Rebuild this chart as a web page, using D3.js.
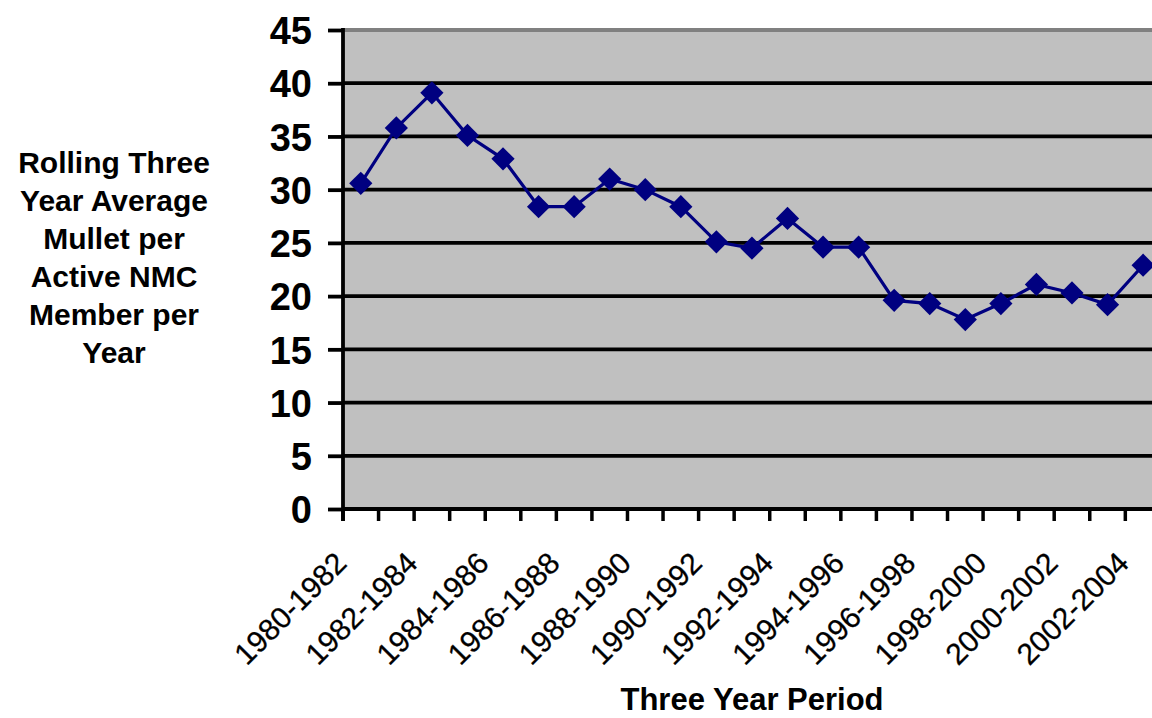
<!DOCTYPE html>
<html>
<head>
<meta charset="utf-8">
<script src="https://cdn.jsdelivr.net/npm/d3@7"></script>
<style>
  html, body { margin: 0; padding: 0; background: #ffffff; }
  svg { display: block; }
  text { font-family: "Liberation Sans", Arial, sans-serif; fill: #000; }
</style>
</head>
<body>
<svg id="chart" width="1152" height="718"></svg>
<script>
const categories = [
  "1980-1982", "1981-1983", "1982-1984", "1983-1985", "1984-1986", "1985-1987",
  "1986-1988", "1987-1989", "1988-1990", "1989-1991", "1990-1992", "1991-1993",
  "1992-1994", "1993-1995", "1994-1996", "1995-1997", "1996-1998", "1997-1999",
  "1998-2000", "1999-2001", "2000-2002", "2001-2003", "2002-2004"
];
const values = [
  30.6, 35.8, 39.1, 35.1, 32.9, 28.4, 28.4, 31.0, 30.0, 28.4, 25.1, 24.5,
  27.3, 24.6, 24.6, 19.6, 19.3, 17.8, 19.3, 21.1, 20.3, 19.2, 22.9
];
const yTicks = [0, 5, 10, 15, 20, 25, 30, 35, 40, 45];
const xLabelCats = categories.filter((c, i) => i % 2 === 0);
const yTitleLines = ["Rolling Three", "Year Average", "Mullet per", "Active NMC", "Member per", "Year"];
const xTitle = "Three Year Period";

const svg = d3.select("#chart");
const L = 343, T = 30, B = 509, step = 35.56;
const R = L + step * categories.length;

const x = d3.scaleBand().domain(categories).range([L, R]).padding(0);
const y = d3.scaleLinear().domain([0, 45]).range([B, T]);
const cx = c => x(c) + x.bandwidth() / 2;

// plot background
svg.append("rect").attr("x", L).attr("y", T).attr("width", R - L).attr("height", B - T)
  .attr("fill", "#c0c0c0");

// gridlines
svg.append("g").selectAll("line").data(yTicks.filter(v => v > 0 && v < 45)).join("line")
  .attr("x1", L).attr("x2", R).attr("y1", d => y(d)).attr("y2", d => y(d))
  .attr("stroke", "#000").attr("stroke-width", 3.8);

// top border
svg.append("line").attr("x1", L).attr("x2", R).attr("y1", T).attr("y2", T)
  .attr("stroke", "#808080").attr("stroke-width", 4);

// y axis
const yAxis = d3.axisLeft(y).tickValues(yTicks).tickSize(15).tickPadding(16).tickFormat(d3.format("d"));
const gy = svg.append("g").attr("transform", `translate(${L},0)`).call(yAxis);
gy.select(".domain").remove();
gy.selectAll(".tick line").attr("stroke", "#000").attr("stroke-width", 3.8);
gy.selectAll(".tick text").attr("font-size", 38).attr("font-weight", "bold")
  .attr("dy", "0.36em").style("font-family", '"Liberation Sans", Arial, sans-serif');
svg.append("line").attr("x1", L).attr("x2", L).attr("y1", T - 2).attr("y2", B + 12)
  .attr("stroke", "#000").attr("stroke-width", 3.8);

// x axis line and ticks at category boundaries
svg.append("line").attr("x1", L).attr("x2", R).attr("y1", B).attr("y2", B)
  .attr("stroke", "#000").attr("stroke-width", 3.8);
const bounds = categories.map(c => x(c)).concat([R]);
svg.append("g").selectAll("line").data(bounds).join("line")
  .attr("x1", d => d).attr("x2", d => d).attr("y1", B).attr("y2", B + 12)
  .attr("stroke", "#000").attr("stroke-width", 3.5);

// x labels
svg.append("g").selectAll("text").data(xLabelCats).join("text")
  .attr("transform", d => `translate(${cx(d) - 12.5},565) rotate(-45)`)
  .attr("text-anchor", "end").attr("font-size", 30)
  .attr("stroke", "#000").attr("stroke-width", 0.3).text(d => d);

// line
const pts = categories.map((c, i) => [cx(c), y(values[i])]);
svg.append("path").datum(pts).attr("d", d3.line())
  .attr("fill", "none").attr("stroke", "#000080").attr("stroke-width", 3.2);

// markers
const sym = d3.symbol().type(d3.symbolSquare).size(270);
svg.append("g").selectAll("path").data(pts).join("path")
  .attr("transform", d => `translate(${d[0]},${d[1]}) rotate(45)`)
  .attr("d", sym).attr("fill", "#000080");

// y title
svg.append("text").attr("text-anchor", "middle").attr("font-size", 30).attr("font-weight", "bold")
  .selectAll("tspan").data(yTitleLines).join("tspan")
  .attr("x", 114).attr("y", (d, i) => 173 + i * 38).text(d => d);

// x title
svg.append("text").attr("x", 752).attr("y", 710).attr("text-anchor", "middle")
  .attr("font-size", 31).attr("font-weight", "bold").text(xTitle);
</script>
</body>
</html>
